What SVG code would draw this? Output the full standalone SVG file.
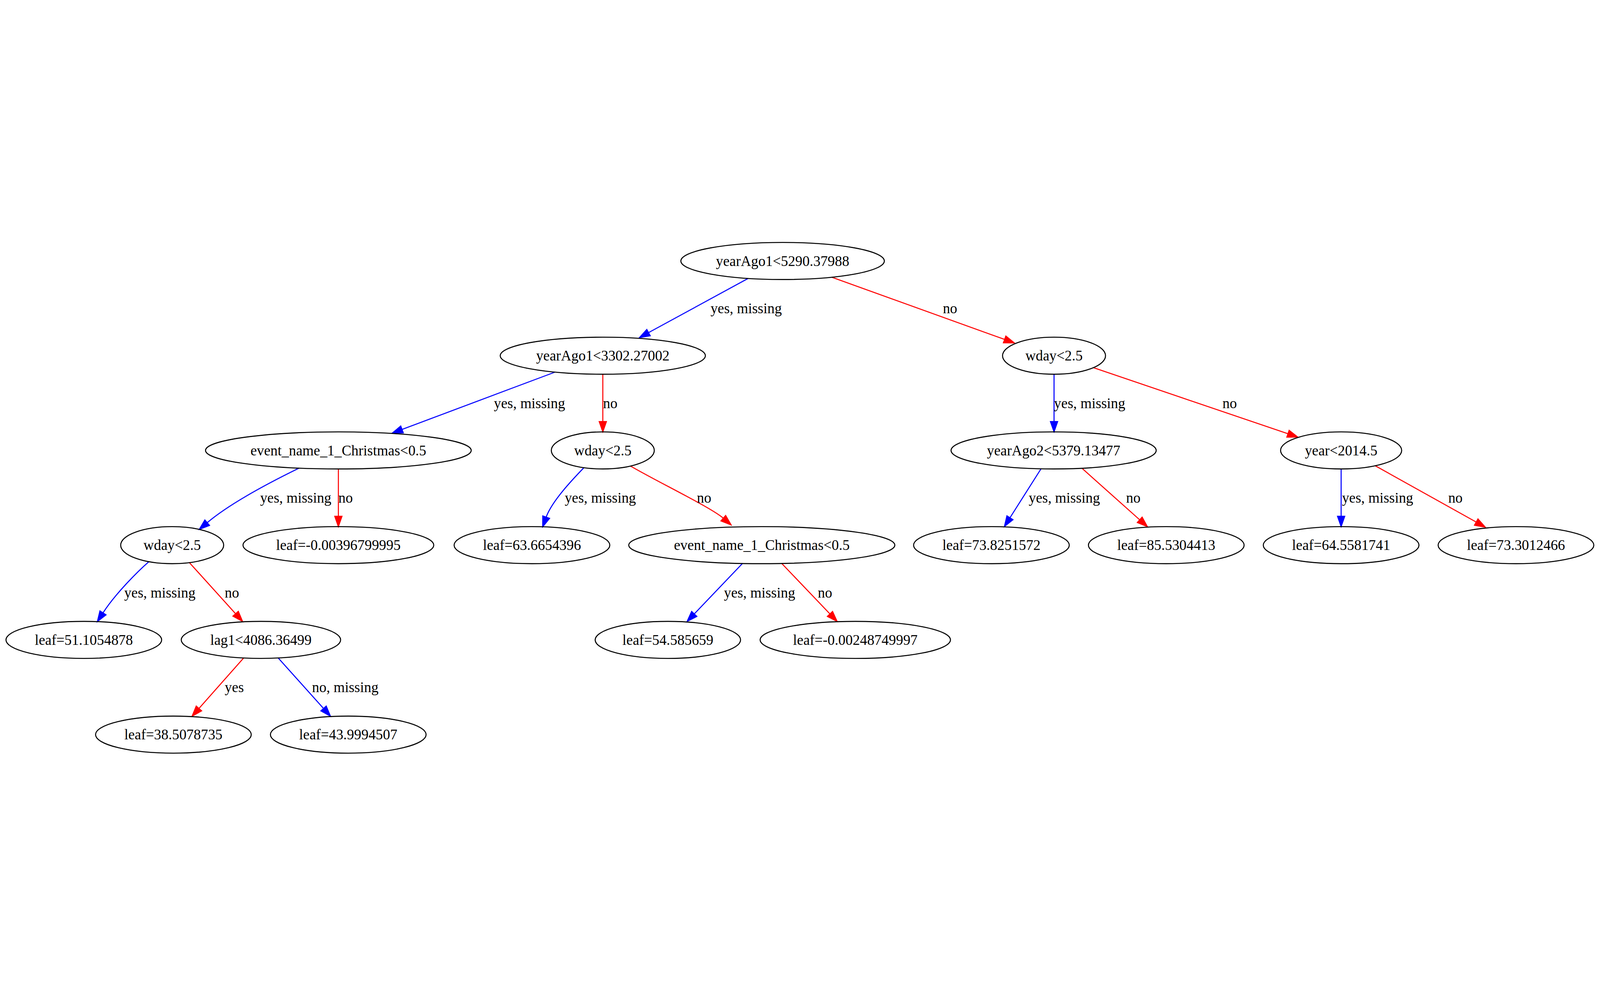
<svg xmlns="http://www.w3.org/2000/svg" width="7769" height="2550" viewBox="0 0 7769 2550">
<defs>
<style>
svg:root{width:100vw;height:100vh}
.node ellipse{fill:none;stroke:#000;stroke-width:5}
.node text{font-family:"Liberation Serif","Times New Roman",serif;font-size:70px;fill:#000;text-anchor:middle}
.lbl{font-family:"Liberation Serif","Times New Roman",serif;font-size:70px;fill:#000}
.b{fill:none;stroke:#0000ff;stroke-width:5;marker-end:url(#ab)}
.r{fill:none;stroke:#ff0000;stroke-width:5;marker-end:url(#ar)}
</style>
<marker id="ab" markerUnits="userSpaceOnUse" viewBox="-3 -3 56 41" markerWidth="56" markerHeight="41" refX="0" refY="17.5" orient="auto" overflow="visible">
<path d="M0,0 L50,17.5 L0,35 Z" fill="#0000ff" stroke="#0000ff" stroke-width="5"/>
</marker>
<marker id="ar" markerUnits="userSpaceOnUse" viewBox="-3 -3 56 41" markerWidth="56" markerHeight="41" refX="0" refY="17.5" orient="auto" overflow="visible">
<path d="M0,0 L50,17.5 L0,35 Z" fill="#ff0000" stroke="#ff0000" stroke-width="5"/>
</marker>
</defs>
<rect width="7769" height="2550" fill="#fff"/>
<g id="edges">
<path class="b" d="M3632,209 L3149,472"/>
<text class="lbl" x="3450" y="378">yes, missing</text>
<path class="r" d="M4039,203 L4878,505"/>
<text class="lbl" x="4578" y="378">no</text>
<path class="b" d="M2694,664 L1952,942"/>
<text class="lbl" x="2398" y="838">yes, missing</text>
<path class="r" d="M2927,674 L2927,904"/>
<text class="lbl" x="2928" y="838">no</text>
<path class="b" d="M5118,674 L5118,904"/>
<text class="lbl" x="5118" y="838">yes, missing</text>
<path class="r" d="M5309,642 L6254,963"/>
<text class="lbl" x="5936" y="838">no</text>
<path class="b" d="M1452,1130 C1360,1175 1130,1290 1006,1395"/>
<text class="lbl" x="1263" y="1298">yes, missing</text>
<path class="r" d="M1643,1134 L1643,1364"/>
<text class="lbl" x="1643" y="1298">no</text>
<path class="b" d="M2835,1128 C2780,1185 2680,1290 2652,1368"/>
<text class="lbl" x="2742" y="1298">yes, missing</text>
<path class="r" d="M3062,1120 C3200,1200 3450,1320 3512,1373"/>
<text class="lbl" x="3384" y="1298">no</text>
<path class="b" d="M5055,1133 L4904,1371"/>
<text class="lbl" x="4995" y="1298">yes, missing</text>
<path class="r" d="M5253,1130 L5534,1381"/>
<text class="lbl" x="5468" y="1298">no</text>
<path class="b" d="M6512,1134 L6512,1364"/>
<text class="lbl" x="6516" y="1298">yes, missing</text>
<path class="r" d="M6677,1118 L7168,1392"/>
<text class="lbl" x="7032" y="1298">no</text>
<path class="b" d="M723,1584 C670,1630 560,1740 500,1833"/>
<text class="lbl" x="603" y="1758">yes, missing</text>
<path class="r" d="M919,1588 L1144,1837"/>
<text class="lbl" x="1091" y="1758">no</text>
<path class="b" d="M3606,1592 L3371,1838"/>
<text class="lbl" x="3515" y="1758">yes, missing</text>
<path class="r" d="M3795,1592 L4030,1838"/>
<text class="lbl" x="3971" y="1758">no</text>
<path class="r" d="M1183,2052 L966,2297"/>
<text class="lbl" x="1091" y="2218">yes</text>
<path class="b" d="M1351,2052 L1571,2297"/>
<text class="lbl" x="1515" y="2218">no, missing</text>
</g>
<g id="n0" class="node"><ellipse cx="3800" cy="124" rx="494" ry="90"/><text x="3800" y="148">yearAgo1&lt;5290.37988</text></g>
<g id="n1" class="node"><ellipse cx="2927" cy="584" rx="498" ry="90"/><text x="2927" y="608">yearAgo1&lt;3302.27002</text></g>
<g id="n2" class="node"><ellipse cx="5118" cy="584" rx="250" ry="90"/><text x="5118" y="608">wday&lt;2.5</text></g>
<g id="n3" class="node"><ellipse cx="1643" cy="1044" rx="645" ry="90"/><text x="1643" y="1068">event_name_1_Christmas&lt;0.5</text></g>
<g id="n4" class="node"><ellipse cx="2927" cy="1044" rx="250" ry="90"/><text x="2927" y="1068">wday&lt;2.5</text></g>
<g id="n5" class="node"><ellipse cx="5116" cy="1044" rx="498" ry="90"/><text x="5116" y="1068">yearAgo2&lt;5379.13477</text></g>
<g id="n6" class="node"><ellipse cx="6512" cy="1044" rx="294" ry="90"/><text x="6512" y="1068">year&lt;2014.5</text></g>
<g id="n7" class="node"><ellipse cx="836" cy="1504" rx="250" ry="90"/><text x="836" y="1528">wday&lt;2.5</text></g>
<g id="n8" class="node"><ellipse cx="1643" cy="1504" rx="463" ry="90"/><text x="1643" y="1528">leaf=-0.00396799995</text></g>
<g id="n9" class="node"><ellipse cx="2583" cy="1504" rx="378" ry="90"/><text x="2583" y="1528">leaf=63.6654396</text></g>
<g id="n10" class="node"><ellipse cx="3699" cy="1504" rx="646" ry="90"/><text x="3699" y="1528">event_name_1_Christmas&lt;0.5</text></g>
<g id="n11" class="node"><ellipse cx="4814" cy="1504" rx="378" ry="90"/><text x="4814" y="1528">leaf=73.8251572</text></g>
<g id="n12" class="node"><ellipse cx="5663" cy="1504" rx="378" ry="90"/><text x="5663" y="1528">leaf=85.5304413</text></g>
<g id="n13" class="node"><ellipse cx="6512" cy="1504" rx="378" ry="90"/><text x="6512" y="1528">leaf=64.5581741</text></g>
<g id="n14" class="node"><ellipse cx="7361" cy="1504" rx="378" ry="90"/><text x="7361" y="1528">leaf=73.3012466</text></g>
<g id="n15" class="node"><ellipse cx="407" cy="1964" rx="378" ry="90"/><text x="407" y="1988">leaf=51.1054878</text></g>
<g id="n16" class="node"><ellipse cx="1267" cy="1964" rx="387" ry="90"/><text x="1267" y="1988">lag1&lt;4086.36499</text></g>
<g id="n17" class="node"><ellipse cx="3243" cy="1964" rx="353" ry="90"/><text x="3243" y="1988">leaf=54.585659</text></g>
<g id="n18" class="node"><ellipse cx="4153" cy="1964" rx="462" ry="90"/><text x="4153" y="1988">leaf=-0.00248749997</text></g>
<g id="n19" class="node"><ellipse cx="842" cy="2424" rx="378" ry="90"/><text x="842" y="2448">leaf=38.5078735</text></g>
<g id="n20" class="node"><ellipse cx="1691" cy="2424" rx="378" ry="90"/><text x="1691" y="2448">leaf=43.9994507</text></g>
</svg>
